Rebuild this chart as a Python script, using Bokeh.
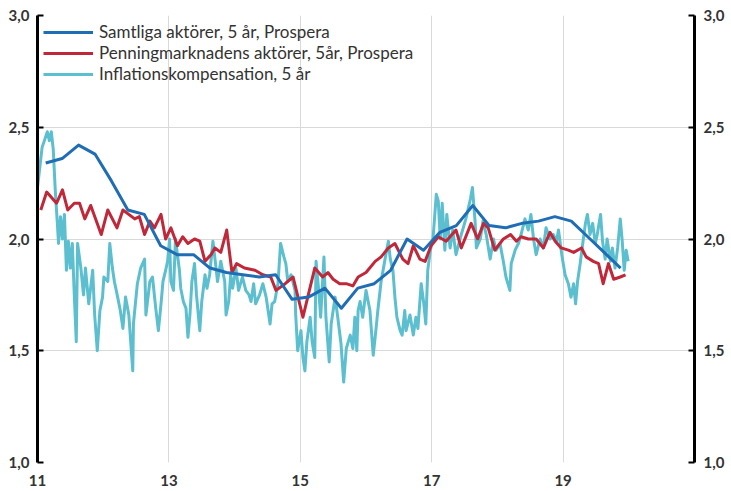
from bokeh.plotting import figure
from bokeh.models import Range1d, LinearAxis, FixedTicker, CustomJSTickFormatter, Legend, LegendItem
from bokeh.embed import file_html
from bokeh.resources import INLINE

# Samtliga aktörer, 5 år, Prospera (quarterly)
blue_x = [11.125, 11.375, 11.625, 11.875, 12.125, 12.375, 12.625, 12.875, 13.125, 13.375, 13.625, 13.875,
          14.125, 14.375, 14.625, 14.875, 15.125, 15.375, 15.625, 15.875, 16.125, 16.375, 16.625, 16.875,
          17.125, 17.375, 17.625, 17.875, 18.125, 18.375, 18.625, 18.875, 19.125, 19.375, 19.625, 19.875]
blue_y = [2.34, 2.36, 2.42, 2.38, 2.26, 2.13, 2.11, 1.97, 1.93, 1.93, 1.87, 1.85,
          1.84, 1.83, 1.84, 1.73, 1.74, 1.78, 1.69, 1.78, 1.80, 1.86, 2.00, 1.95,
          2.03, 2.06, 2.15, 2.06, 2.05, 2.07, 2.08, 2.10, 2.08, 2.01, 1.94, 1.87]

# Penningmarknadens aktörer, 5år, Prospera
red_x = [11.05, 11.14, 11.29, 11.38, 11.46, 11.56, 11.64, 11.72, 11.81, 11.97, 12.07, 12.21, 12.30, 12.48,
         12.55, 12.63, 12.71, 12.78, 12.88, 12.95, 13.03, 13.13, 13.21, 13.29, 13.39, 13.47, 13.55, 13.64,
         13.70, 13.79, 13.88, 13.96, 14.03, 14.15, 14.31, 14.43, 14.55, 14.63, 14.77, 14.89, 15.04, 15.22,
         15.34, 15.42, 15.50, 15.60, 15.70, 15.80, 15.88, 16.00, 16.14, 16.23, 16.34, 16.44, 16.56, 16.64,
         16.72, 16.82, 16.90, 16.99, 17.10, 17.22, 17.37, 17.45, 17.60, 17.70, 17.79, 17.86, 17.96, 18.09,
         18.20, 18.29, 18.36, 18.47, 18.59, 18.70, 18.80, 18.88, 18.97, 19.08, 19.16, 19.28, 19.35, 19.46,
         19.54, 19.61, 19.69, 19.77, 19.87, 19.95]
red_y = [2.13, 2.21, 2.16, 2.22, 2.13, 2.16, 2.16, 2.09, 2.15, 2.02, 2.13, 2.05, 2.13, 2.09,
         2.10, 2.02, 2.08, 2.05, 2.11, 2.00, 2.05, 1.97, 2.01, 1.98, 2.00, 1.99, 1.90, 1.93,
         1.96, 1.94, 2.04, 1.85, 1.89, 1.87, 1.86, 1.84, 1.83, 1.77, 1.80, 1.83, 1.65, 1.87,
         1.83, 1.85, 1.82, 1.80, 1.80, 1.79, 1.83, 1.85, 1.90, 1.92, 1.96, 1.98, 1.91, 1.89,
         1.97, 1.91, 1.90, 1.97, 2.01, 1.99, 2.04, 1.96, 2.07, 2.00, 2.07, 2.05, 1.95, 2.00,
         2.02, 1.99, 2.01, 2.00, 2.00, 1.96, 2.03, 1.99, 1.96, 1.95, 1.94, 1.96, 1.92, 1.90,
         1.89, 1.80, 1.89, 1.82, 1.83, 1.84]

# Inflationskompensation, 5 år
cyan_x = [11.00, 11.07, 11.15, 11.18, 11.21, 11.24, 11.27, 11.30, 11.32, 11.35, 11.38, 11.41, 11.44, 11.47,
          11.50, 11.53, 11.56, 11.59, 11.61, 11.66, 11.70, 11.73, 11.78, 11.84, 11.87, 11.91, 11.95, 11.99,
          12.01, 12.07, 12.10, 12.14, 12.17, 12.22, 12.26, 12.30, 12.34, 12.39, 12.45, 12.46, 12.52, 12.57,
          12.63, 12.65, 12.71, 12.75, 12.80, 12.84, 12.88, 12.91, 12.95, 12.98, 13.01, 13.03, 13.07, 13.10,
          13.16, 13.18, 13.22, 13.26, 13.29, 13.32, 13.35, 13.39, 13.42, 13.47, 13.50, 13.55, 13.58, 13.62,
          13.67, 13.71, 13.74, 13.79, 13.85, 13.87, 13.91, 13.94, 13.97, 14.02, 14.06, 14.12, 14.17, 14.22,
          14.25, 14.29, 14.32, 14.38, 14.43, 14.48, 14.54, 14.57, 14.61, 14.66, 14.70, 14.75, 14.78, 14.81,
          14.86, 14.92, 14.93, 14.96, 15.01, 15.04, 15.07, 15.10, 15.15, 15.18, 15.22, 15.24, 15.28, 15.31,
          15.36, 15.39, 15.44, 15.47, 15.53, 15.57, 15.62, 15.66, 15.70, 15.76, 15.80, 15.83, 15.86, 15.88,
          15.91, 15.95, 16.00, 16.06, 16.11, 16.15, 16.18, 16.23, 16.29, 16.34, 16.37, 16.41, 16.44, 16.47,
          16.52, 16.55, 16.59, 16.61, 16.67, 16.72, 16.76, 16.79, 16.84, 16.88, 16.91, 16.94, 16.98, 17.02,
          17.07, 17.10, 17.13, 17.16, 17.20, 17.23, 17.28, 17.32, 17.37, 17.43, 17.48, 17.52, 17.59, 17.62,
          17.66, 17.68, 17.74, 17.78, 17.83, 17.89, 17.94, 17.98, 18.04, 18.09, 18.13, 18.19, 18.21, 18.27,
          18.32, 18.36, 18.42, 18.47, 18.51, 18.55, 18.59, 18.65, 18.70, 18.74, 18.80, 18.85, 18.90, 18.93,
          18.98, 19.03, 19.08, 19.12, 19.16, 19.19, 19.22, 19.26, 19.29, 19.34, 19.37, 19.41, 19.45, 19.49,
          19.52, 19.57, 19.60, 19.64, 19.67, 19.72, 19.75, 19.79, 19.83, 19.87, 19.90, 19.93, 19.96, 19.99]
cyan_y = [2.23, 2.41, 2.48, 2.44, 2.48, 2.40, 2.22, 2.08, 1.98, 2.10, 2.00, 2.11, 1.86, 1.99,
          1.87, 1.98, 1.75, 1.54, 1.98, 1.87, 1.75, 1.87, 1.71, 1.86, 1.66, 1.50, 1.68, 1.74,
          1.83, 1.81, 1.98, 1.87, 1.81, 1.74, 1.68, 1.60, 1.74, 1.66, 1.41, 1.62, 1.80, 1.87,
          1.91, 1.66, 1.81, 1.83, 1.69, 1.59, 1.71, 1.81, 1.86, 1.90, 2.00, 1.81, 1.77, 2.00,
          1.86, 1.78, 1.72, 1.69, 1.56, 1.66, 1.81, 1.89, 1.75, 1.59, 1.72, 1.84, 1.78, 1.84,
          1.99, 1.89, 1.81, 1.90, 1.81, 1.66, 1.72, 1.84, 1.78, 1.87, 1.77, 1.83, 1.77, 1.75,
          1.72, 1.80, 1.71, 1.75, 1.80, 1.74, 1.62, 1.71, 1.72, 1.80, 1.98, 1.92, 1.89, 1.81,
          1.84, 1.77, 1.66, 1.50, 1.59, 1.47, 1.41, 1.54, 1.65, 1.54, 1.47, 1.90, 1.77, 1.65,
          1.92, 1.65, 1.45, 1.62, 1.74, 1.65, 1.53, 1.36, 1.51, 1.57, 1.51, 1.65, 1.50, 1.68,
          1.72, 1.65, 1.77, 1.68, 1.48, 1.59, 1.68, 1.81, 1.91, 1.99, 1.91, 1.86, 1.74, 1.65,
          1.59, 1.57, 1.68, 1.59, 1.66, 1.57, 1.65, 1.60, 1.80, 1.71, 1.62, 1.86, 1.95, 2.00,
          2.20, 2.17, 2.00, 2.16, 1.95, 2.11, 1.96, 2.04, 1.93, 2.00, 2.05, 2.09, 2.18, 2.23,
          2.08, 1.96, 2.00, 2.08, 2.02, 1.91, 2.00, 1.95, 1.98, 1.90, 1.83, 1.77, 1.89, 1.95,
          1.98, 2.02, 2.09, 2.04, 2.11, 2.00, 1.93, 2.00, 1.96, 2.05, 2.00, 2.02, 1.99, 2.04,
          1.93, 1.84, 1.80, 1.74, 1.80, 1.71, 1.81, 1.89, 1.96, 2.07, 2.11, 2.02, 2.07, 1.98,
          2.02, 2.11, 1.99, 1.91, 2.00, 1.90, 1.96, 1.87, 1.96, 2.09, 1.99, 1.86, 1.95, 1.90]

series_labels = ["Samtliga aktörer, 5 år, Prospera",
                 "Penningmarknadens aktörer, 5år, Prospera",
                 "Inflationskompensation, 5 år"]
x_ticks = [11, 13, 15, 17, 19]
y_ticks = [1.0, 1.5, 2.0, 2.5, 3.0]

BLUE = "#1f6db5"
RED = "#c0283a"
CYAN = "#5bbfcf"
TXT = "#333333"
FONT = "Lato"

p = figure(width=727, height=488, output_backend="svg", toolbar_location=None,
           x_range=Range1d(11, 21), y_range=Range1d(1, 3),
           min_border_left=37, min_border_right=32, min_border_top=15, min_border_bottom=22)
p.outline_line_color = None
p.background_fill_color = "white"
p.border_fill_color = "white"

rc = p.line(cyan_x, cyan_y, line_color=CYAN, line_width=3, line_join="round")
rr = p.line(red_x, red_y, line_color=RED, line_width=3, line_join="round")
rb = p.line(blue_x, blue_y, line_color=BLUE, line_width=3, line_join="round")

fmt = CustomJSTickFormatter(code="return tick.toFixed(1).replace('.', ',');")

yl = p.yaxis[0]
yl.ticker = FixedTicker(ticks=y_ticks)
yl.formatter = fmt
yr = LinearAxis(ticker=FixedTicker(ticks=y_ticks), formatter=fmt)
p.add_layout(yr, "right")
for ax, st in ((yl, 8), (yr, 9)):
    ax.axis_line_color = "black"
    ax.axis_line_width = 3
    ax.major_tick_in = 6
    ax.major_tick_out = 0
    ax.major_tick_line_color = "black"
    ax.major_tick_line_width = 2
    ax.minor_tick_line_color = None
    ax.major_label_standoff = st
    ax.major_label_text_font = FONT
    ax.major_label_text_font_size = "15px"
    ax.major_label_text_font_style = "bold"
    ax.major_label_text_color = TXT

xa = p.xaxis[0]
xa.ticker = FixedTicker(ticks=x_ticks)
xa.axis_line_color = None
xa.major_tick_line_color = None
xa.minor_tick_line_color = None
xa.major_label_standoff = 6
xa.major_label_text_font = FONT
xa.major_label_text_font_size = "15px"
xa.major_label_text_font_style = "bold"
xa.major_label_text_color = TXT

p.xgrid.ticker = FixedTicker(ticks=[13, 15, 17, 19])
p.ygrid.ticker = FixedTicker(ticks=[1.0, 1.5, 2.0, 2.5])
p.xgrid.grid_line_color = "#d9d9d9"
p.ygrid.grid_line_color = "#d9d9d9"
p.xgrid.grid_line_width = 1
p.ygrid.grid_line_width = 1

legend = Legend(items=[LegendItem(label=series_labels[0], renderers=[rb]),
                       LegendItem(label=series_labels[1], renderers=[rr]),
                       LegendItem(label=series_labels[2], renderers=[rc])],
                location="top_left", margin=6, padding=8, spacing=-3,
                glyph_width=50, glyph_height=20, label_height=20, label_standoff=6,
                label_text_font=FONT, label_text_font_size="17px", label_text_color=TXT,
                background_fill_alpha=0, border_line_color=None)
p.add_layout(legend)

open("out.html", "w").write(file_html(p, INLINE))
